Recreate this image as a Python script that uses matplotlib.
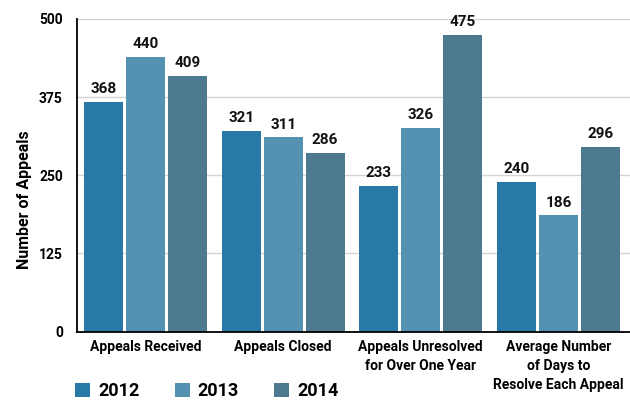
#!/usr/bin/env python3

import matplotlib

matplotlib.use("Agg")
import matplotlib.pyplot as plt
import numpy as np
from matplotlib.patches import Patch


categories = [
    "Appeals Received",
    "Appeals Closed",
    "Appeals Unresolved\nfor Over One Year",
    "Average Number\nof Days to\nResolve Each Appeal",
]
years = ["2012", "2013", "2014"]
values_2012 = [368, 321, 233, 240]
values_2013 = [440, 311, 326, 186]
values_2014 = [409, 286, 475, 296]
y_ticks = [0, 125, 250, 375, 500]

colors = ["#2878a8", "#5592b2", "#4d7a90"]

plt.rcParams["font.family"] = ["Roboto", "DejaVu Sans"]
plt.rcParams["font.weight"] = "bold"


def main() -> None:
    fig = plt.figure(figsize=(6.3, 4.0), dpi=100)
    ax = fig.add_axes([0.1217, 0.171, 0.8783, 0.7815])

    x = np.arange(len(categories))
    width = 0.283
    step = 0.305
    series = [values_2012, values_2013, values_2014]
    for i, vals in enumerate(series):
        bars = ax.bar(x + (i - 1) * step, vals, width=width, color=colors[i], zorder=2)
        for bar, v in zip(bars, vals):
            ax.annotate(
                f"{v}",
                (bar.get_x() + bar.get_width() / 2, v),
                xytext=(0, 4),
                textcoords="offset points",
                ha="center",
                va="bottom",
                fontsize=11,
                fontweight="bold",
                color="#111111",
            )

    ax.set_xlim(-0.5, 3.52)
    ax.set_ylim(0, 500)
    ax.set_yticks(y_ticks)
    ax.set_yticklabels([str(t) for t in y_ticks], fontsize=10, fontweight="bold")
    ax.set_xticks(x)
    ax.set_xticklabels(categories, fontsize=10, fontweight="bold", linespacing=1.45)
    ax.tick_params(axis="x", length=0, pad=6)
    ax.tick_params(axis="y", length=0, pad=10)

    ax.grid(axis="y", color="#d4d4d4", linewidth=1, zorder=0)
    ax.set_axisbelow(True)
    for side in ["top", "right"]:
        ax.spines[side].set_visible(False)
    ax.spines["left"].set_linewidth(1.3)
    ax.spines["bottom"].set_linewidth(1.3)

    ax.set_ylabel("Number of Appeals", fontsize=11.5, fontweight="bold")
    ax.yaxis.set_label_coords(-0.08, 0.423)

    handles = [Patch(facecolor=c, edgecolor="none") for c in colors]
    fig.legend(
        handles,
        years,
        loc="center left",
        bbox_to_anchor=(0.119, 0.022),
        ncol=3,
        frameon=False,
        prop={"weight": "bold", "size": 13},
        handlelength=0.83,
        handleheight=0.83,
        handletextpad=0.45,
        columnspacing=1.95,
        borderpad=0,
        borderaxespad=0,
    )

    fig.savefig("out.png", dpi=100)
    plt.close(fig)


if __name__ == "__main__":
    main()
